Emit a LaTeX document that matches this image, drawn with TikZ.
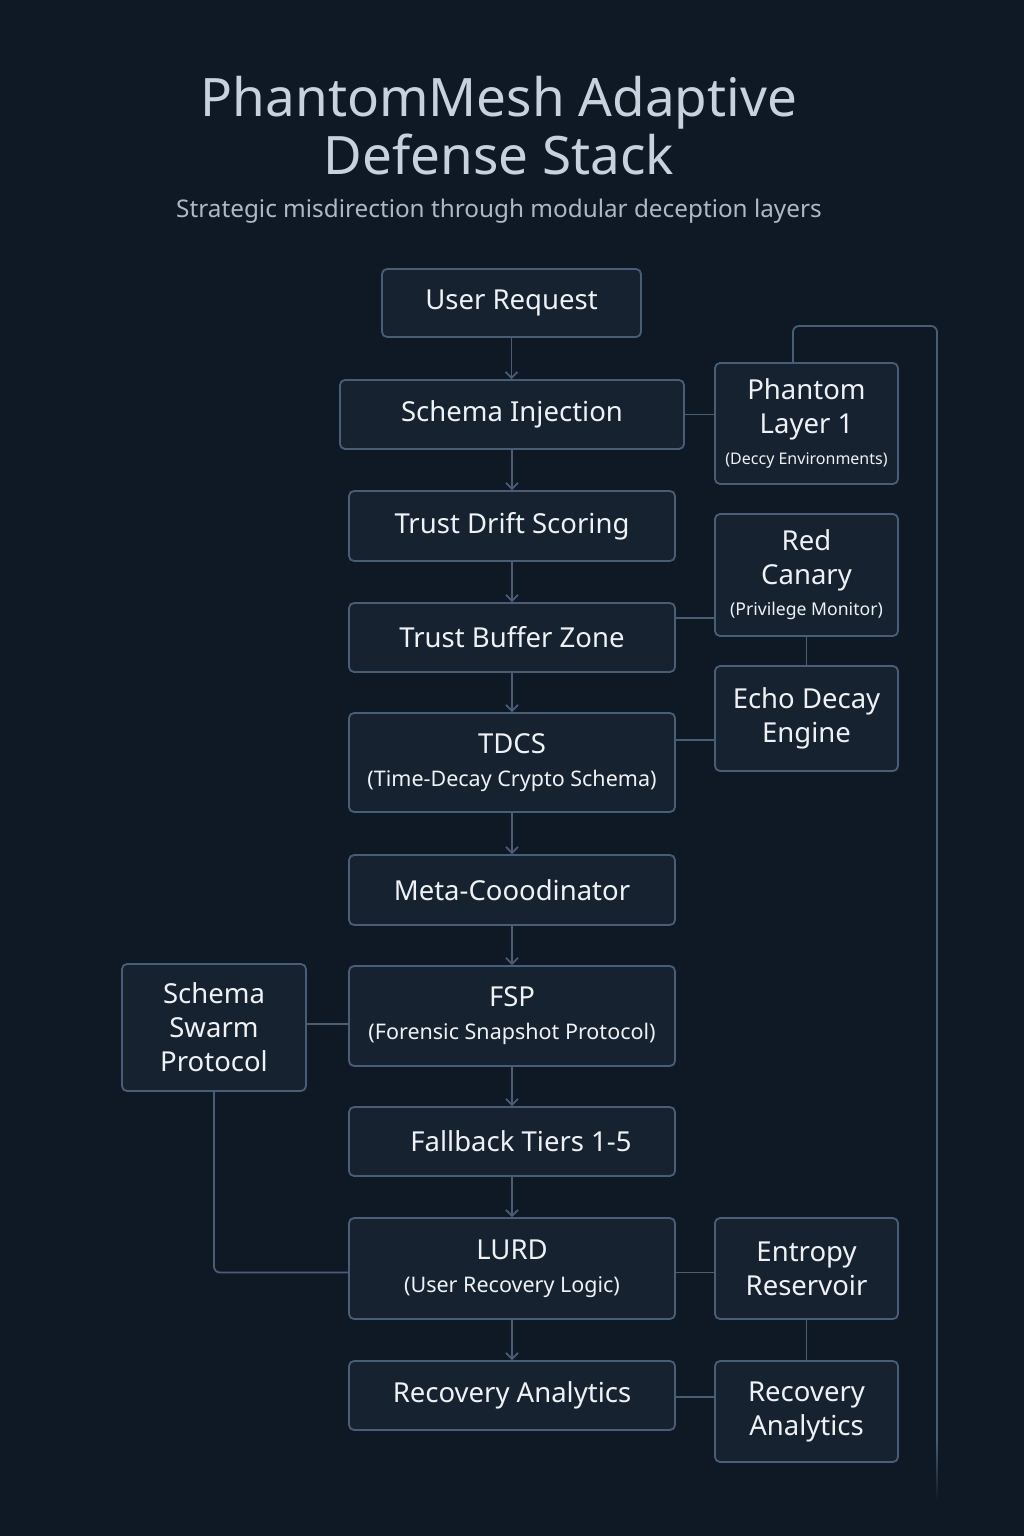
\documentclass[tikz,border=0pt]{standalone}
\usepackage{fontspec}
\setmainfont{Noto Sans}
\usetikzlibrary{arrows.meta}
\definecolor{bg}{HTML}{0F1926}
\definecolor{boxfill}{HTML}{172230}
\definecolor{boxline}{HTML}{4A5D76}
\definecolor{txt}{HTML}{EEF2F6}
\definecolor{titlec}{HTML}{C8D2DC}
\definecolor{subc}{HTML}{AEB9C5}
\begin{document}
\begin{tikzpicture}[x=1pt,y=-1pt,
  box/.style={draw=boxline, fill=boxfill, line width=1.8pt, rounded corners=5pt,
    text=txt, align=center, inner sep=0pt, font=\fontsize{27.5}{34}\selectfont},
  widebox/.style={box, minimum width=326pt},
  sidebox/.style={box, minimum width=183pt},
  link/.style={draw=boxline, line width=1.8pt},
  flow/.style={link, -{Straight Barb[length=6pt,width=12pt,line width=1.8pt]}}]
\fill[bg] (0,0) rectangle (1024,1536);
\useasboundingbox (0,0) rectangle (1024,1536);

% title
\node[text=titlec, align=center, font=\fontsize{53}{58}\selectfont] (title) at (499,126)
  {PhantomMesh Adaptive\\Defense Stack};
\node[text=subc, font=\fontsize{24.3}{28}\selectfont] (subtitle) at (499,211)
  {Strategic misdirection through modular deception layers};

% main column
\node[box, minimum width=259pt, minimum height=68pt] (ureq) at (511.5,303) {User Request};
\node[box, minimum width=344pt, minimum height=69pt] (sinj) at (512,414.5) {Schema Injection};
\node[widebox, minimum height=70pt] (tds) at (512,526) {Trust Drift Scoring};
\node[widebox, minimum height=69pt] (tbz) at (512,637.5) {Trust Buffer Zone};
\node[widebox, minimum height=99pt] (tdcs) at (512,762.5)
  {TDCS\\[-1pt]{\fontsize{21.5}{26}\selectfont(Time-Decay Crypto Schema)}};
\node[widebox, minimum height=70pt] (meta) at (512,890) {Meta-Cooodinator};
\node[widebox, minimum height=100pt] (fsp) at (512,1016)
  {FSP\\[-1pt]{\fontsize{21.5}{26}\selectfont(Forensic Snapshot Protocol)}};
\node[widebox, minimum height=69pt] (fall) at (512,1141.5) {\hspace*{18pt}Fallback Tiers 1-5};
\node[widebox, minimum height=101pt] (lurd) at (512,1268.5)
  {LURD\\[-1pt]{\fontsize{21.5}{26}\selectfont(User Recovery Logic)}};
\node[widebox, minimum height=69pt] (recl) at (512,1395.5) {Recovery Analytics};

% side boxes
\node[sidebox, minimum height=121pt] (phant) at (806.5,423.5)
  {Phantom\\Layer 1\\[-3pt]{\fontsize{16}{20}\selectfont(Deccy Environments)}};
\node[sidebox, minimum height=122pt] (canary) at (806.5,575)
  {Red\\Canary\\[-3pt]{\fontsize{17.6}{21}\selectfont(Privilege Monitor)}};
\node[sidebox, minimum height=105pt] (echo) at (806.5,718.5) {Echo Decay\\Engine};
\node[sidebox, minimum height=101pt] (entropy) at (806.5,1268.5) {Entropy\\Reservoir};
\node[sidebox, minimum height=101pt] (recr) at (806.5,1411.5) {Recovery\\Analytics};
\node[box, minimum width=184pt, minimum height=127pt] (swarm) at (214,1027.5)
  {Schema\\Swarm\\Protocol};

% flow arrows
\draw[flow] (ureq.south) -- (ureq.south |- sinj.north);
\draw[flow] (sinj.south) -- (tds.north);
\draw[flow] (tds.south) -- (tbz.north);
\draw[flow] (tbz.south) -- (tdcs.north);
\draw[flow] (tdcs.south) -- (meta.north);
\draw[flow] (meta.south) -- (fsp.north);
\draw[flow] (fsp.south) -- (fall.north);
\draw[flow] (fall.south) -- (lurd.north);
\draw[flow] (lurd.south) -- (recl.north);

% side links
\draw[link] (sinj.east) -- (sinj.east -| phant.west);
\draw[link] ([yshift=19.5pt]tbz.east) -- ([yshift=19.5pt]tbz.east -| canary.west);
\draw[link] (canary.south) -- (echo.north);
\draw[link] ([yshift=22.5pt]tdcs.east) -- ([yshift=22.5pt]tdcs.east -| echo.west);
\draw[link] ([yshift=-8pt]fsp.west) -- ([yshift=-8pt]fsp.west -| swarm.east);
\draw[link, rounded corners=6pt] (swarm.south) |- ([yshift=-4pt]lurd.west);
\draw[link] ([yshift=-4pt]lurd.east) -- ([yshift=-4pt]lurd.east -| entropy.west);
\draw[link] (entropy.south) -- (recr.north);
\draw[link] ([yshift=-1.5pt]recl.east) -- ([yshift=-1.5pt]recl.east -| recr.west);

% feedback line from Phantom Layer
\coordinate (fbturn) at (937,326);
\coordinate (fbend) at (937,1440);
\draw[link, rounded corners=6pt] ([xshift=-13.5pt]phant.north) |- (fbturn) -- (fbend);
\shade[top color=boxline, bottom color=bg] ([xshift=-0.9pt]fbend) rectangle (937.9,1500);
\end{tikzpicture}
\end{document}
